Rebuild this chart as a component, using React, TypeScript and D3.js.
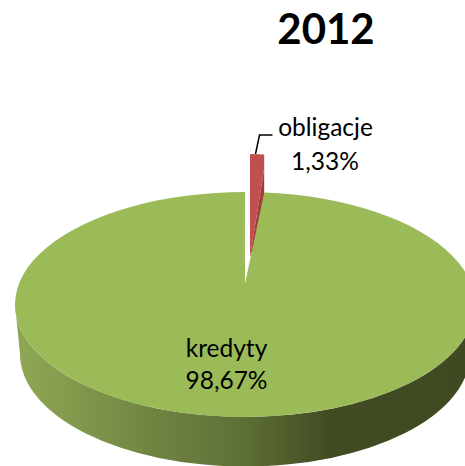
import * as d3 from "d3";

const categories = ["obligacje", "kredyty"];
const values = [1.33, 98.67];
const percentLabels = ["1,33%", "98,67%"];
const title = "2012";

const WIDTH = 465;
const HEIGHT = 466;
const FONT = "Lato, 'Open Sans', sans-serif";

const pie = d3
  .pie<number>()
  .sort(null)
  .value((d) => d);

const slices = pie(values);

// flattened disc, the apex sits above the ellipse centre because of the perspective
const disc = { cx: 245, cy: 304.5, rx: 230, ry: 112.5, apexY: 284, depth: 50 };
const wallBottom = { rx: 225, cy: 354 };
const red = { apexX: 250, apexY: 257, cy: 266.5, rim: 14 };

const rimX = (a: number) => disc.rx * Math.sin(a);
const rimY = (a: number) => -disc.ry * Math.cos(a);

const p0 = slices[1];
const p1 = slices[0];

const greenFace = () => {
  const path = [
    `M${disc.cx},${disc.apexY}`,
    `L${disc.cx + rimX(p0.startAngle)},${disc.cy + rimY(p0.startAngle)}`,
    `A${disc.rx},${disc.ry} 0 1 1 ${disc.cx + rimX(p0.endAngle - 1e-4)},${disc.cy + rimY(p0.endAngle - 1e-4)}`,
    "Z",
  ];
  return path.join(" ");
};

const greenWall = () =>
  [
    `M${disc.cx - disc.rx},${disc.cy}`,
    `A${disc.rx},${disc.ry} 0 0 0 ${disc.cx + disc.rx},${disc.cy}`,
    `L${disc.cx + wallBottom.rx},${wallBottom.cy}`,
    `A${wallBottom.rx},${disc.ry} 0 0 1 ${disc.cx - wallBottom.rx},${wallBottom.cy}`,
    "Z",
  ].join(" ");

const redEnd = {
  x: red.apexX + rimX(p1.endAngle) * 0.74,
  y: red.cy + rimY(p1.endAngle),
};
const redStart = { x: red.apexX, y: red.cy + rimY(p1.startAngle) };

const redFace = () =>
  [
    `M${red.apexX},${red.apexY}`,
    `L${redStart.x},${redStart.y}`,
    `L${redEnd.x},${redEnd.y}`,
    `V${redEnd.y + red.rim}`,
    "Z",
  ].join(" ");

const redWall = () =>
  [
    `M${red.apexX},${red.apexY}`,
    `L${redEnd.x},${redEnd.y + red.rim}`,
    `V${redEnd.y + red.rim + disc.depth}`,
    "Z",
  ].join(" ");

export default function App() {
  return (
    <div style={{ position: "absolute", left: 0, top: 0, width: WIDTH, height: HEIGHT, overflow: "hidden" }}>
      <svg width={WIDTH} height={HEIGHT} style={{ display: "block", background: "#fff" }} fontFamily={FONT}>
        <defs>
          <linearGradient id="wall" gradientUnits="userSpaceOnUse" x1={15} x2={465} y1={0} y2={0}>
            <stop offset="0%" stopColor="#90a855" />
            <stop offset="30%" stopColor="#718542" />
            <stop offset="50%" stopColor="#5f7036" />
            <stop offset="70%" stopColor="#414c23" />
            <stop offset="100%" stopColor="#3f4a22" />
          </linearGradient>
        </defs>

        <text x={326} y={44} textAnchor="middle" fontSize={42} fontWeight={700} fill="#000">
          {title}
        </text>

        <path d={redWall()} fill="#a13c3a" />
        <path d={redFace()} fill="#c0504d" />
        <path d={greenWall()} fill="url(#wall)" />
        <path d={greenFace()} fill="#9bbb59" />

        <path d="M255.5,154 L259.5,135 H272.5" fill="none" stroke="#000" strokeWidth={1.5} />

        <g fontSize={24.5} fill="#000" textAnchor="middle">
          <text x={325.5} y={136}>{categories[0]}</text>
          <text x={325} y={170}>{percentLabels[0]}</text>
          <text x={226.5} y={357}>{categories[1]}</text>
          <text x={226.5} y={389}>{percentLabels[1]}</text>
        </g>
      </svg>
    </div>
  );
}
